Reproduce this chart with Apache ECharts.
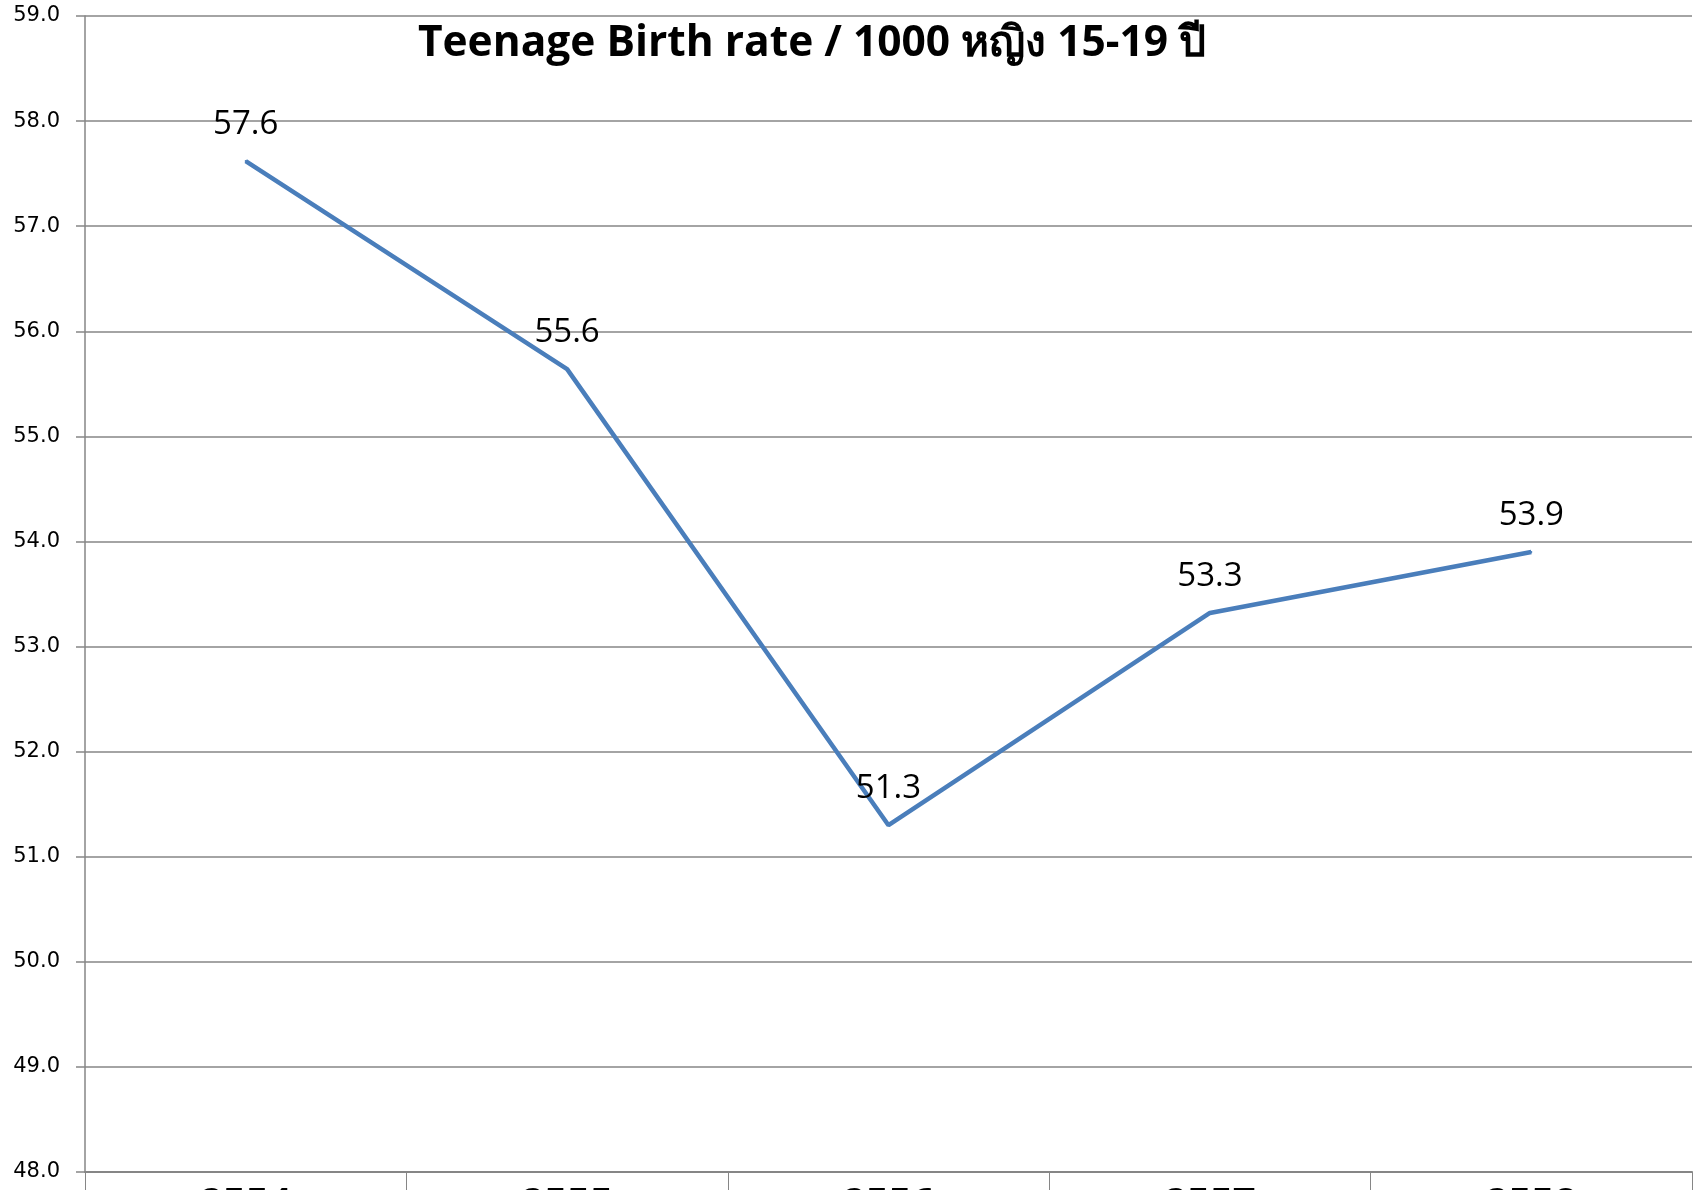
<!DOCTYPE html>
<html>
<head>
<meta charset="utf-8">
<script src="https://cdn.jsdelivr.net/npm/echarts@6/dist/echarts.min.js"></script>
<style>
html,body{margin:0;padding:0;background:#fff;}
#chart{width:1700px;height:1190px;}
</style>
</head>
<body>
<div id="chart"></div>
<script>
const categories = ['2554', '2555', '2556', '2557', '2558'];
const birthRate = [57.62, 55.64, 51.3, 53.32, 53.9];
const titleText = 'Teenage Birth rate / 1000 หญิง 15-19 ปี';

const chart = echarts.init(document.getElementById('chart'));
chart.setOption({
  backgroundColor: '#ffffff',
  animation: false,
  title: {
    text: titleText,
    left: 807,
    top: 17,
    textAlign: 'center',
    textStyle: {
      fontFamily: '"Open Sans", "Noto Sans", sans-serif',
      fontWeight: 'bold',
      fontSize: 42.5,
      color: '#000'
    }
  },
  grid: { left: 85, right: 8, top: 16, bottom: 18, containLabel: false, outerBoundsMode: 'none' },
  xAxis: {
    type: 'category',
    data: categories,
    boundaryGap: true,
    axisLine: { show: true, lineStyle: { color: '#868686', width: 2 } },
    axisTick: { show: true, length: 25, alignWithLabel: false, lineStyle: { color: '#868686', width: 1 } },
    axisLabel: {
      margin: 13,
      fontFamily: '"Open Sans", sans-serif',
      fontWeight: 'bold',
      fontSize: 40,
      color: '#000'
    },
    splitLine: { show: false }
  },
  yAxis: {
    type: 'value',
    min: 48,
    max: 59,
    interval: 1,
    axisLine: { show: true, lineStyle: { color: '#868686', width: 1.5 } },
    axisTick: { show: true, length: 9, lineStyle: { color: '#868686', width: 1.5 } },
    axisLabel: {
      margin: 25,
      fontFamily: '"DejaVu Sans", sans-serif',
      fontSize: 21,
      color: '#000',
      formatter: v => v.toFixed(1)
    },
    splitLine: { show: true, lineStyle: { color: '#868686', width: 1.5 } }
  },
  series: [{
    type: 'line',
    data: birthRate,
    symbol: 'circle',
    symbolSize: 2,
    showSymbol: true,
    lineStyle: { color: '#4a7ebb', width: 4.5 },
    itemStyle: { color: '#4a7ebb', borderWidth: 0 },
    label: {
      show: true,
      position: 'top',
      distance: 19,
      fontFamily: '"Open Sans", sans-serif',
      fontSize: 33,
      color: '#000',
      formatter: p => p.value.toFixed(1)
    }
  }]
});
</script>
</body>
</html>
